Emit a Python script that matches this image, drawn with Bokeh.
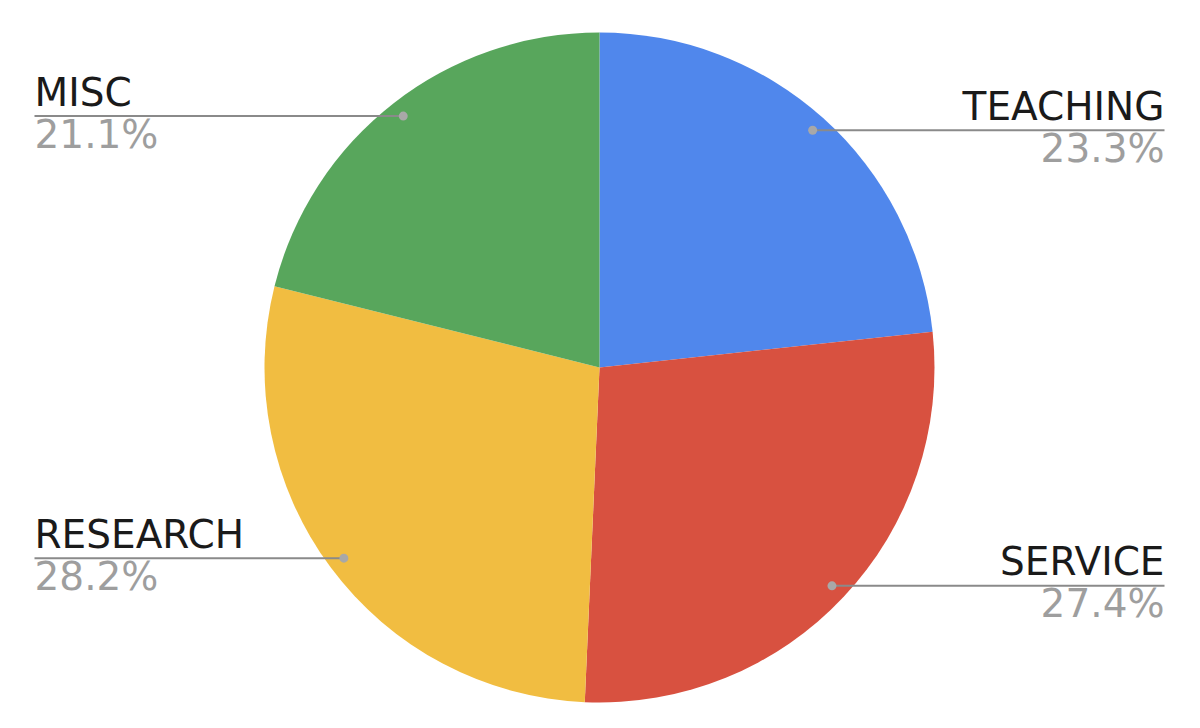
import numpy as np
from bokeh.plotting import figure
from bokeh.models import Range1d, ColumnDataSource
from bokeh.core.properties import value
from bokeh.embed import file_html
from bokeh.resources import INLINE

# ---- data ----
categories = ["TEACHING", "SERVICE", "RESEARCH", "MISC"]
percents = [23.3, 27.4, 28.2, 21.1]
colors = ["#5087EC", "#D85140", "#F1BD41", "#58A65C"]

# ---- geometry (pixel-like data space, y up) ----
W, H = 1184, 712
cx, cy = 599, 728 - 367
R = 335
dot_r = 0.952 * R
left_x, right_x = 34, 1164
FONT = "DejaVu Sans"

p = figure(width=W, height=H, output_backend="svg", toolbar_location=None,
           x_range=Range1d(0, W), y_range=Range1d(728 - H, 728),
           min_border=0, outline_line_color=None)
p.axis.visible = False
p.grid.visible = False
p.background_fill_color = "white"
p.border_fill_color = "white"

vals = np.array(percents, dtype=float)
frac = vals / vals.sum()
cum_end = np.cumsum(frac)
cum_start = cum_end - frac
start = np.pi / 2 - 2 * np.pi * cum_end
end = np.pi / 2 - 2 * np.pi * cum_start
mid = (start + end) / 2

src = ColumnDataSource(dict(start=start, end=end, color=colors))
p.wedge(x=cx, y=cy, radius=R, start_angle="start", end_angle="end",
        fill_color="color", line_color=None, source=src)

dx = cx + dot_r * np.cos(mid)
dy = cy + dot_r * np.sin(mid)
right = np.cos(mid) > 0
lx = np.where(right, right_x, left_x)

for i in range(len(categories)):
    p.line([dx[i], lx[i]], [dy[i], dy[i]], line_color="#8a8a8a", line_width=2)
p.scatter(dx, dy, size=9, fill_color="#a8a8a8", line_color=None)

labels = ColumnDataSource(dict(
    x=lx, y1=dy + 24, y2=dy - 18,
    name=categories, pct=["%.1f%%" % v for v in percents],
    align=["right" if r else "left" for r in right]))
p.text(x="x", y="y1", text="name", text_align="align", text_baseline="alphabetic",
       text_font=value(FONT), text_font_size="39px", text_color="#1a1a1a", source=labels)
p.text(x="x", y="y2", text="pct", text_align="align", text_baseline="alphabetic",
       text_font=value(FONT), text_font_size="39px", text_color="#9e9e9e", source=labels)

open("out.html", "w").write(file_html(p, INLINE))
